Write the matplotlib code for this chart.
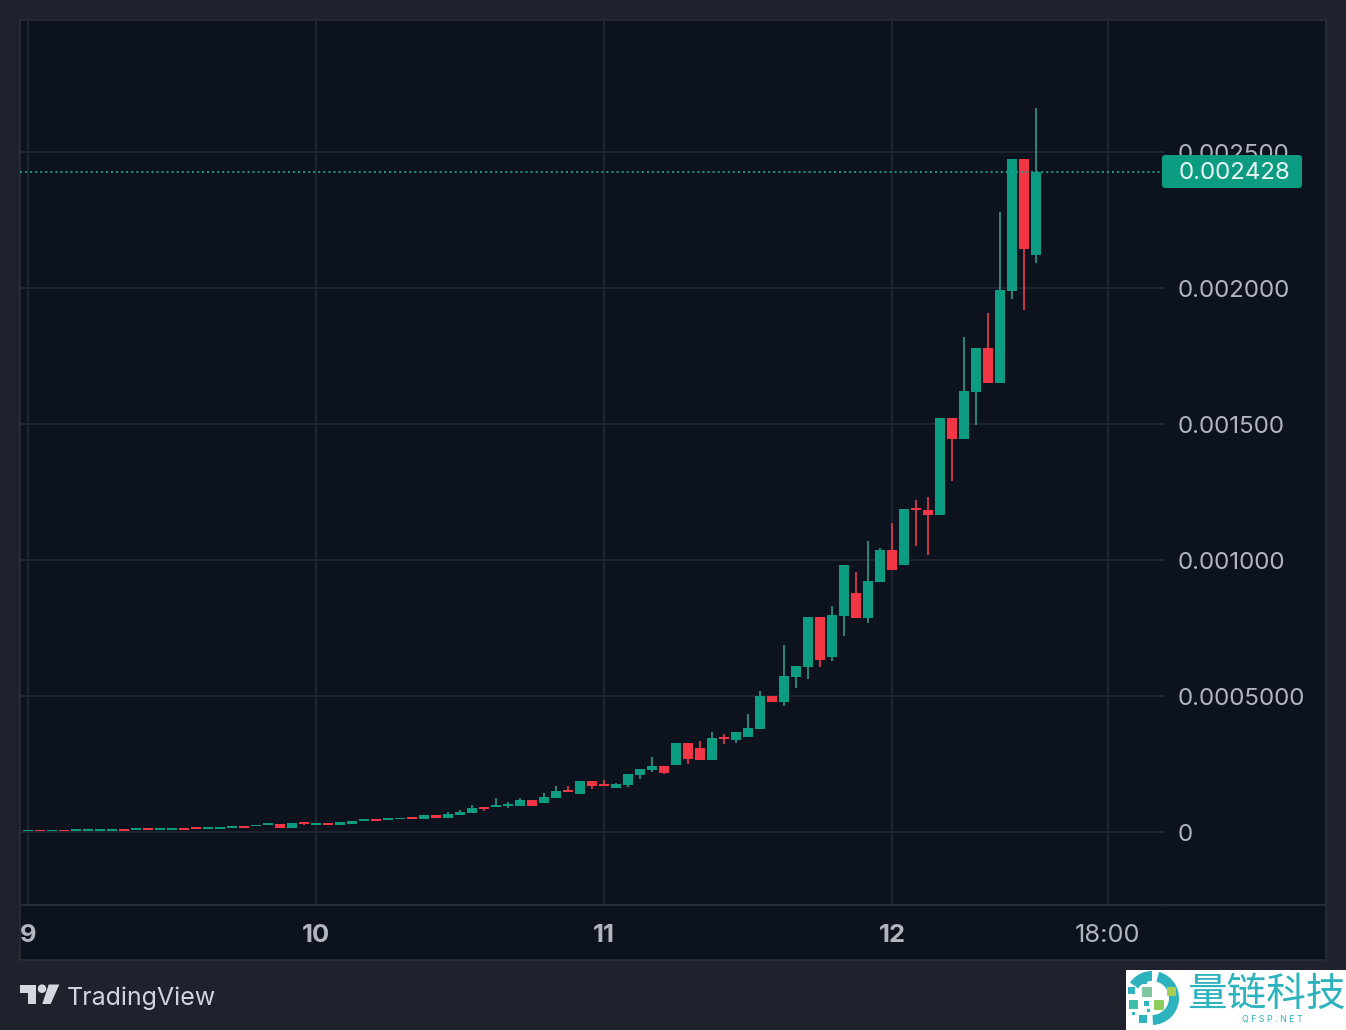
import matplotlib
matplotlib.use("Agg")
import matplotlib.pyplot as plt
from matplotlib.patches import Rectangle, Circle, Polygon, FancyBboxPatch, Wedge
from matplotlib.lines import Line2D
from matplotlib.transforms import Affine2D, ScaledTranslation

# Hourly candles, prices in millionths
opens = [2, 7, 3, 7, 5, 5, 5, 5, 11, 7, 14, 7, 7, 14, 18, 11, 11, 15, 22, 22, 26, 29, 15, 37, 26, 33, 26, 29, 40,
         48, 44, 46, 55, 48, 61, 51, 63, 70, 92, 92, 96, 96, 118, 107, 125, 154, 140, 188, 176, 162, 173, 210,
         228, 243, 246, 327, 309, 265, 349, 338, 349, 379, 500, 478, 570, 607, 790, 643, 794, 879, 787, 919,
         1037, 982, 1191, 1184, 1165, 1522, 1445, 1618, 1779, 1651, 1989, 2474, 2121]
highs = [7, 7, 7, 7, 10, 10, 10, 10, 11, 14, 14, 14, 14, 14, 18, 18, 18, 22, 22, 26, 33, 29, 33, 37, 33, 33, 37, 40,
         48, 48, 51, 51, 55, 63, 61, 74, 81, 99, 92, 125, 110, 125, 118, 143, 169, 169, 188, 188, 191, 180, 213,
         232, 276, 243, 327, 327, 335, 368, 360, 368, 434, 518, 500, 688, 610, 790, 790, 831, 982, 956, 1070,
         1044, 1136, 1188, 1221, 1232, 1522, 1522, 1820, 1779, 1908, 2279, 2474, 2474, 2662]
lows = [2, 2, 3, 2, 5, 5, 5, 5, 4, 7, 7, 7, 7, 7, 11, 11, 11, 15, 15, 22, 26, 15, 15, 26, 26, 26, 26, 29, 40,
        40, 44, 46, 48, 48, 51, 51, 63, 70, 77, 92, 88, 96, 96, 107, 125, 147, 140, 158, 169, 162, 165, 195,
        221, 213, 246, 250, 265, 265, 324, 327, 349, 379, 478, 463, 529, 563, 607, 629, 721, 787, 768, 919,
        963, 982, 1051, 1018, 1165, 1290, 1445, 1496, 1651, 1651, 1960, 1919, 2092]
closes = [7, 2, 7, 2, 10, 10, 10, 10, 4, 14, 7, 14, 14, 7, 11, 18, 18, 22, 15, 26, 33, 15, 33, 29, 33, 26, 37, 40,
          48, 40, 51, 51, 48, 63, 51, 66, 74, 88, 85, 99, 103, 118, 96, 129, 151, 147, 188, 169, 169, 176, 213,
          232, 243, 217, 327, 268, 265, 346, 342, 368, 382, 500, 478, 574, 610, 790, 632, 798, 982, 787, 923,
          1037, 963, 1188, 1184, 1165, 1522, 1445, 1621, 1779, 1651, 1993, 2474, 2143, 2428]
hour_ticks = [0, 24, 48, 72, 90]
hour_labels = ["9", "10", "11", "12", "18:00"]
price_ticks = [0, 0.0005, 0.001, 0.0015, 0.002, 0.0025]
price_labels = ["0", "0.0005000", "0.001000", "0.001500", "0.002000", "0.002500"]
last_price = 0.002428
last_label = "0.002428"
logo_cn = "量链科技"
logo_en = "QFSP.NET"

BG, PANEL, BORDER, GRID = "#1e222c", "#0d131e", "#2a2e39", "#232934"
UP, DOWN = "#0b9c82", "#f23645"
UP_W, DOWN_W = "#2f8f80", "#d93a4a"
TXT = "#b2b5be"
FONT = ["Inter", "DejaVu Sans"]
W, H = 1346, 1030

fig = plt.figure(figsize=(W / 100, H / 100), dpi=100, facecolor=BG)
px = Affine2D().scale(1, -1).translate(0, H)


def add(p):
    p.set_transform(px)
    fig.add_artist(p)
    return p


add(Rectangle((20, 20), 1306, 940, fc=PANEL, ec=BORDER, lw=1.2, zorder=-2))

ax = fig.add_axes([20 / W, 1 - 905 / H, 1144 / W, 885 / H], facecolor="none", zorder=1)
ax.set_xlim(-8 / 12, 1136 / 12)
ax.set_ylim(-73 / 272000, 812 / 272000)

for s in ("top", "left", "right"):
    ax.spines[s].set_visible(False)
ax.spines["bottom"].set_color(BORDER)
ax.spines["bottom"].set_linewidth(1.3)
add(Line2D([1166, 1326], [905, 905], color=BORDER, lw=1.3))

ax.grid(True, color=GRID, lw=1.2, zorder=0)
ax.set_axisbelow(True)
ax.set_xticks(hour_ticks, hour_labels)
ax.set_yticks(price_ticks, price_labels)
ax.yaxis.tick_right()
ax.tick_params(axis="both", length=0, colors=TXT)
ax.tick_params(axis="y", pad=10, labelsize=17.35)
ax.tick_params(axis="x", pad=13.5, labelsize=18.4)
nudge = ScaledTranslation(0, -0.4 / 100, fig.dpi_scale_trans)
for t in ax.get_yticklabels():
    t.set_family(FONT)
    t.set_transform(t.get_transform() + nudge)
for t, lab in zip(ax.get_xticklabels(), hour_labels):
    t.set_family(FONT)
    t.set_fontweight("normal" if ":" in lab else "bold")

for i, (o, h, l, c) in enumerate(zip(opens, highs, lows, closes)):
    up = c >= o
    ax.vlines(i, l * 1e-6, h * 1e-6, color=UP_W if up else DOWN_W, lw=1.3, zorder=3)
    ax.bar(i, abs(c - o) * 1e-6, bottom=min(o, c) * 1e-6, width=10 / 12,
           color=UP if up else DOWN, lw=0, zorder=4)

ax.axhline(last_price, color="#1fa391", lw=1.3, ls=(0, (1.1, 1.7)), zorder=5)

# last-price tag
add(FancyBboxPatch((1165, 158), 134, 27, boxstyle="round,pad=3,rounding_size=3", fc=UP, ec="none", zorder=6))
fig.text(1179 / W, 1 - 170.5 / H, last_label, color="#e8f5f2", fontsize=17.35, family=FONT, ha="left",
         va="center_baseline", zorder=7)

# TradingView mark
LOGO = "#d5d8df"
add(Polygon([(20, 984.5), (36, 984.5), (36, 1004), (28, 1004), (28, 992.5), (20, 992.5)], fc=LOGO, ec="none"))
add(Circle((42, 988.7), 4.3, fc=LOGO, ec="none"))
add(Polygon([(48.7, 984.5), (59.3, 984.5), (50.7, 1004), (42.3, 1004)], fc=LOGO, ec="none"))
fig.text(66.5 / W, 1 - 996 / H, "TradingView", color="#d1d4dc", fontsize=18, family=FONT, ha="left",
         va="center_baseline")

# watermark
TEAL, LIME, PALE = "#2db3bd", "#a6cf4f", "#3ebfa8"
add(Rectangle((1126, 970), 220, 60, fc="white", ec="none", zorder=8))
add(Wedge((1152, 998), 27, -75, 88, width=10, fc=TEAL, ec="none", zorder=9))
add(Wedge((1152, 998), 27, 215, 270, width=10, fc=TEAL, ec="none", zorder=9))
squares = [(1139, 976, 8, TEAL), (1128, 987, 7, TEAL), (1142, 987, 10, "#7fc7a0"), (1167, 987, 9, LIME),
           (1129, 1000, 9, PALE), (1144, 1001, 5, TEAL), (1154, 1000, 10, "#8ccf5c"), (1139, 1015, 8, TEAL),
           (1132, 1012, 3, TEAL), (1147, 1009, 3, TEAL)]
for x, y, s, col in squares:
    add(Rectangle((x, y), s, s, fc=col, ec="none", zorder=10))
fig.text(1266 / W, 1 - 995 / H, logo_cn, color=TEAL, fontsize=28.5, family=["Noto Sans CJK SC", "DejaVu Sans"],
         ha="center", va="center", zorder=10)
fig.text(1272 / W, 1 - 1019.5 / H, " ".join(logo_en), color=TEAL, fontsize=6.4,
         family=FONT, ha="center", va="center", zorder=10)

fig.savefig("out.png", dpi=100, facecolor=BG)
